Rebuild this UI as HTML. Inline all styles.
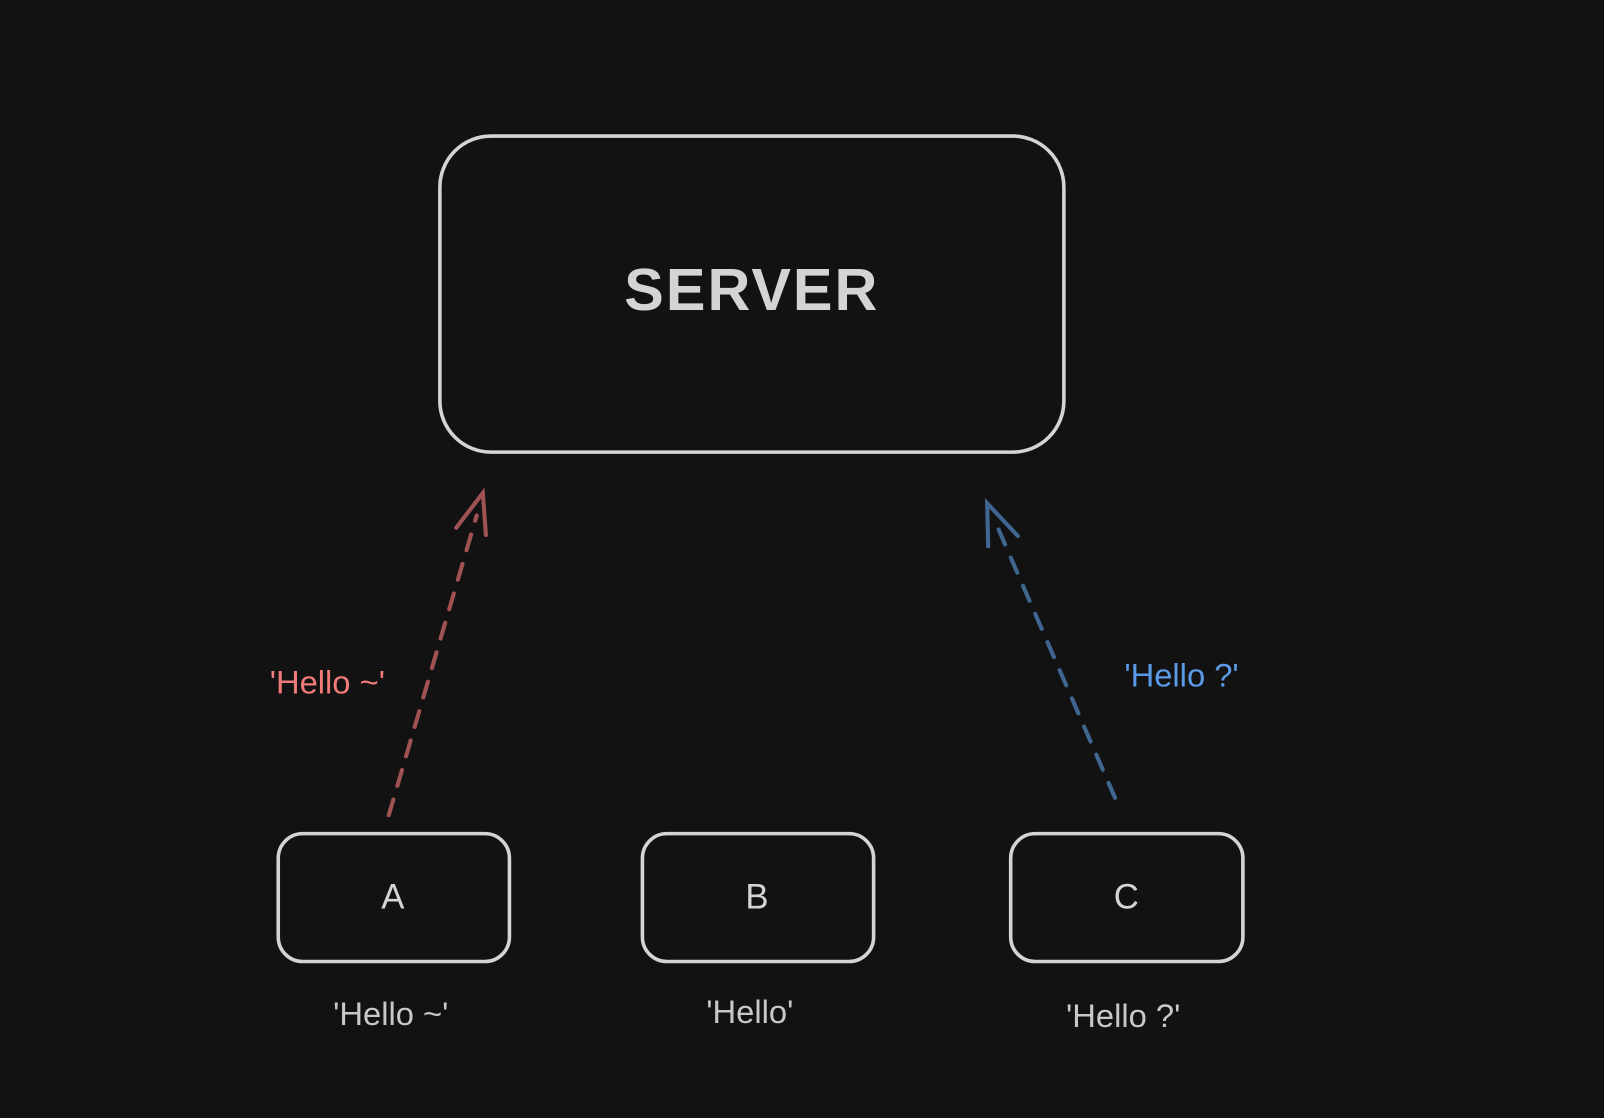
<!DOCTYPE html>
<html><head><meta charset="utf-8"><style>
html,body{margin:0;padding:0;background:#121212;width:1604px;height:1118px;overflow:hidden}
svg{display:block}
text{font-family:"Liberation Sans",sans-serif}
</style></head><body>
<svg width="1604" height="1118" viewBox="0 0 1568 1093" preserveAspectRatio="none">
<rect width="1568" height="1093" fill="#121212"/>
<g fill="none" stroke="#d4d4d4" stroke-width="3.5">
<rect x="430" y="133" width="610" height="309" rx="50"/>
<rect x="272" y="815" width="226" height="125" rx="24"/>
<rect x="628" y="815" width="226" height="125" rx="24"/>
<rect x="988" y="815" width="227" height="125" rx="24"/>
</g>
<text x="735" y="303" font-size="58" font-weight="bold" fill="#d4d4d4" text-anchor="middle" letter-spacing="2">SERVER</text>
<g font-size="34" fill="#d4d4d4" text-anchor="middle">
<text x="384" y="888">A</text>
<text x="740" y="888">B</text>
<text x="1101" y="888">C</text>
</g>
<g font-size="32" fill="#c8c8c8" text-anchor="middle">
<text x="382" y="1002">'Hello ~'</text>
<text x="733" y="1000">'Hello'</text>
<text x="1098" y="1004">'Hello ?'</text>
</g>
<g fill="none" stroke="#a05252" stroke-width="4" stroke-linecap="round">
<path d="M380 797 L466 504" stroke-dasharray="16 14"/>
<path d="M446 516 L472 482 L475 523"/>
</g>
<text x="320" y="678" font-size="32" fill="#f07b78" text-anchor="middle">'Hello ~'</text>
<g fill="none" stroke="#3f6690" stroke-width="4" stroke-linecap="round">
<path d="M1090 780 L972 508" stroke-dasharray="16 14"/>
<path d="M966 534 L965 492 L995 524"/>
</g>
<text x="1155" y="671" font-size="32" fill="#5b9ae6" text-anchor="middle">'Hello ?'</text>
</svg>
</body></html>
